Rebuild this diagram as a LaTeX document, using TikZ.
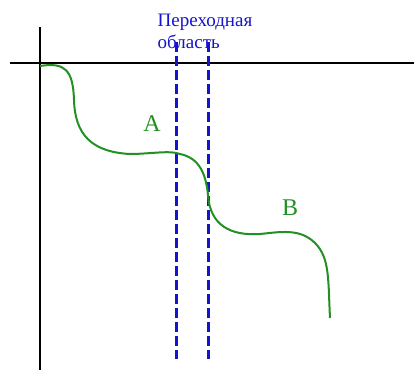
\documentclass[tikz,border=0pt]{standalone}
\usepackage{fontspec}
\setmainfont{Liberation Serif}
\usepackage{xcolor}
\usetikzlibrary{positioning}
\definecolor{curvegreen}{HTML}{229022}
\definecolor{zoneblue}{HTML}{1414CC}

\begin{document}
\begin{tikzpicture}[
  x=1pt, y=-1pt,
  axis/.style={draw=black, line width=2pt},
  border/.style={draw=zoneblue, line width=2.6pt, dash pattern=on 10pt off 4pt},
  curve/.style={draw=curvegreen, line width=2pt},
  region/.style={text=curvegreen, font=\fontsize{24}{26}\selectfont},
  caption/.style={text=zoneblue, font=\fontsize{19}{22}\selectfont, align=left, inner sep=0pt}
]
\useasboundingbox (0,0) rectangle (414,372);
% axes
\coordinate (ytop) at (39.5,27);
\coordinate (ybot) at (39.5,370);
\coordinate (xleft) at (10,63);
\coordinate (xright) at (414,63);
\draw[axis] (ytop) -- (ybot);
\draw[axis] (xleft) -- (xright);
% transition zone
\coordinate (lefttop) at (176.5,42);
\coordinate (leftbot) at (176.5,359);
\coordinate (righttop) at (208.5,42);
\coordinate (rightbot) at (208.5,359);
\draw[border] (lefttop) -- (leftbot);
\draw[border] (righttop) -- (rightbot);
\node[caption, anchor=north west] (zone) at (157.5,13.5) {Переходная\\область};
% profile
\draw[curve] (40,66) .. controls (65,62) and (73,70) .. (74,100)
  .. controls (75,135) and (92,152) .. (130,154)
  .. controls (150,154) and (170,150) .. (180,154)
  .. controls (200,158) and (206,175) .. (208,195)
  .. controls (210,225) and (230,236) .. (260,234)
  .. controls (280,232) and (300,228) .. (315,243)
  .. controls (330,258) and (328,280) .. (330,318);
\node[region] (a) at (152,124) {A};
\node[region] (b) at (290,208) {B};
\end{tikzpicture}
\end{document}
